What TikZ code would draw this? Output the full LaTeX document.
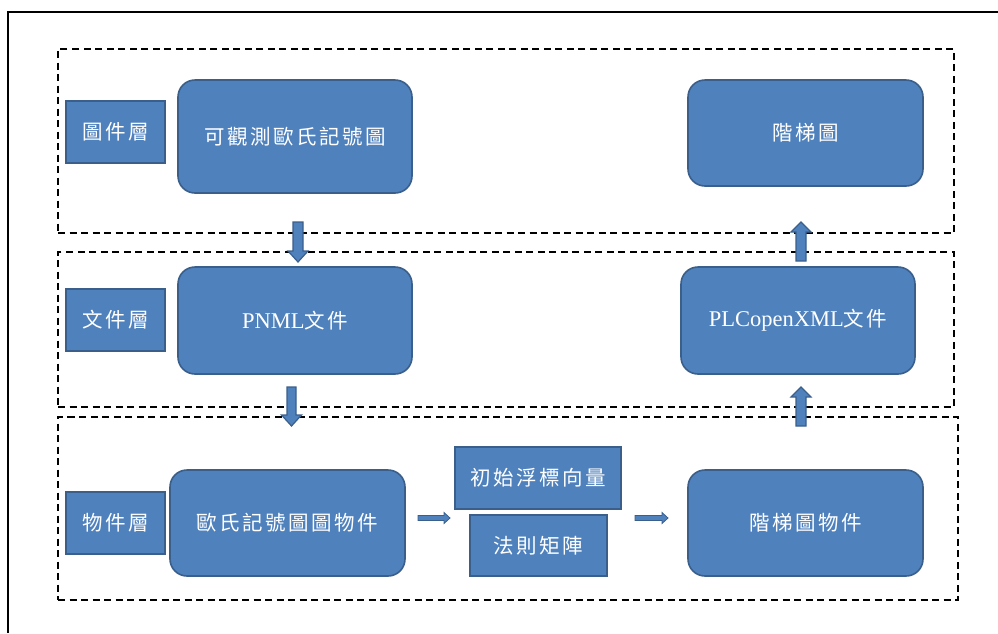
\documentclass[tikz,border=0pt]{standalone}
\usepackage{fontspec}
\setmainfont{Liberation Serif}
\newfontfamily\cjk[LetterSpace=12]{Noto Sans CJK TC}
\usetikzlibrary{calc}
\definecolor{boxfill}{HTML}{4F81BD}
\definecolor{boxline}{HTML}{3A5F8B}
\tikzset{
  blk/.style={draw=boxline, fill=boxfill, line width=1.6pt, text=white, inner sep=0pt, align=center,
    font=\fontsize{20.5}{22}\selectfont},
  rbox/.style={blk, rounded corners=17pt},
  lbox/.style={blk, line width=2pt},
  layer/.style={draw=black, dash pattern=on 7pt off 4.5pt, line width=1.6pt, inner sep=0pt},
  barrow/.style={draw=boxline, fill=boxfill, line width=1.2pt, line join=miter},
  frame/.style={draw=black, line width=2pt}
}
\newcommand{\lat}[1]{{\fontsize{22.5}{24}\selectfont #1}}
\begin{document}
\begin{tikzpicture}[x=1pt,y=-1pt]
\useasboundingbox (0,0) rectangle (998,633);
% outer frame (only top and left visible)
\coordinate (fr1) at (998,12);
\coordinate (fr2) at (8,12);
\coordinate (fr3) at (8,633);
\draw[frame] (fr1) -- (fr2) -- (fr3);
% layers
\node[layer, minimum width=896pt, minimum height=184pt] (lay1) at (506,141) {};
\node[layer, minimum width=896pt, minimum height=155pt] (lay2) at (506,329.5) {};
\node[layer, minimum width=900pt, minimum height=183pt] (lay3) at (508,508.5) {};
% layer labels
\node[lbox, minimum width=99pt, minimum height=62pt] (l1) at (115.5,132) {\cjk 圖件層};
\node[lbox, minimum width=99pt, minimum height=62pt] (l2) at (115.5,320) {\cjk 文件層};
\node[lbox, minimum width=99pt, minimum height=62pt] (l3) at (115.5,523) {\cjk 物件層};
% main boxes
\node[rbox, minimum width=234pt, minimum height=113pt] (A) at (295,136.5) {\cjk 可觀測歐氏記號圖};
\node[rbox, minimum width=235pt, minimum height=106pt] (B) at (805.5,133) {\cjk 階梯圖};
\node[rbox, minimum width=234pt, minimum height=107pt] (C) at (295,320.5) {\lat{PNML}{\cjk 文件}};
\node[rbox, minimum width=234pt, minimum height=107pt] (D) at (798,320.5) {\lat{PLCopenXML}{\cjk 文件}};
\node[rbox, minimum width=235pt, minimum height=106pt] (E) at (287.5,523) {\cjk 歐氏記號圖圖物件};
\node[lbox, minimum width=166pt, minimum height=62pt] (F) at (538,478) {\cjk 初始浮標向量};
\node[lbox, minimum width=137pt, minimum height=61pt] (G) at (538.5,545.5) {\cjk 法則矩陣};
\node[rbox, minimum width=235pt, minimum height=106pt] (H) at (805.5,523) {\cjk 階梯圖物件};
% block arrows
\coordinate (a1) at (298,222);
\draw[barrow] (a1) ++(-5,0) -- ++(10,0) -- ++(0,29) -- ++(5,0) -- ++(-10,11) -- ++(-10,-11) -- ++(5,0) -- cycle;
\coordinate (a2) at (291.5,387);
\draw[barrow] (a2) ++(-4.5,0) -- ++(9,0) -- ++(0,28) -- ++(5.5,0) -- ++(-10,11) -- ++(-10,-11) -- ++(5.5,0) -- cycle;
\coordinate (a3) at (801,261);
\draw[barrow] (a3) ++(-5,0) -- ++(10,0) -- ++(0,-29) -- ++(5,0) -- ++(-10,-10) -- ++(-10,10) -- ++(5,0) -- cycle;
\coordinate (a4) at (801,426);
\draw[barrow] (a4) ++(-5,0) -- ++(10,0) -- ++(0,-29) -- ++(5,0) -- ++(-10,-10) -- ++(-10,10) -- ++(5,0) -- cycle;
\coordinate (a5) at (418,518);
\draw[barrow, line width=0.8pt] (a5) ++(0,-2.5) -- ++(26,0) -- ++(0,-3) -- ++(6,5.5) -- ++(-6,5.5) -- ++(0,-3) -- ++(-26,0) -- cycle;
\coordinate (a6) at (635,518);
\draw[barrow, line width=0.8pt] (a6) ++(0,-2.5) -- ++(27,0) -- ++(0,-3) -- ++(6,5.5) -- ++(-6,5.5) -- ++(0,-3) -- ++(-27,0) -- cycle;
\end{tikzpicture}
\end{document}
